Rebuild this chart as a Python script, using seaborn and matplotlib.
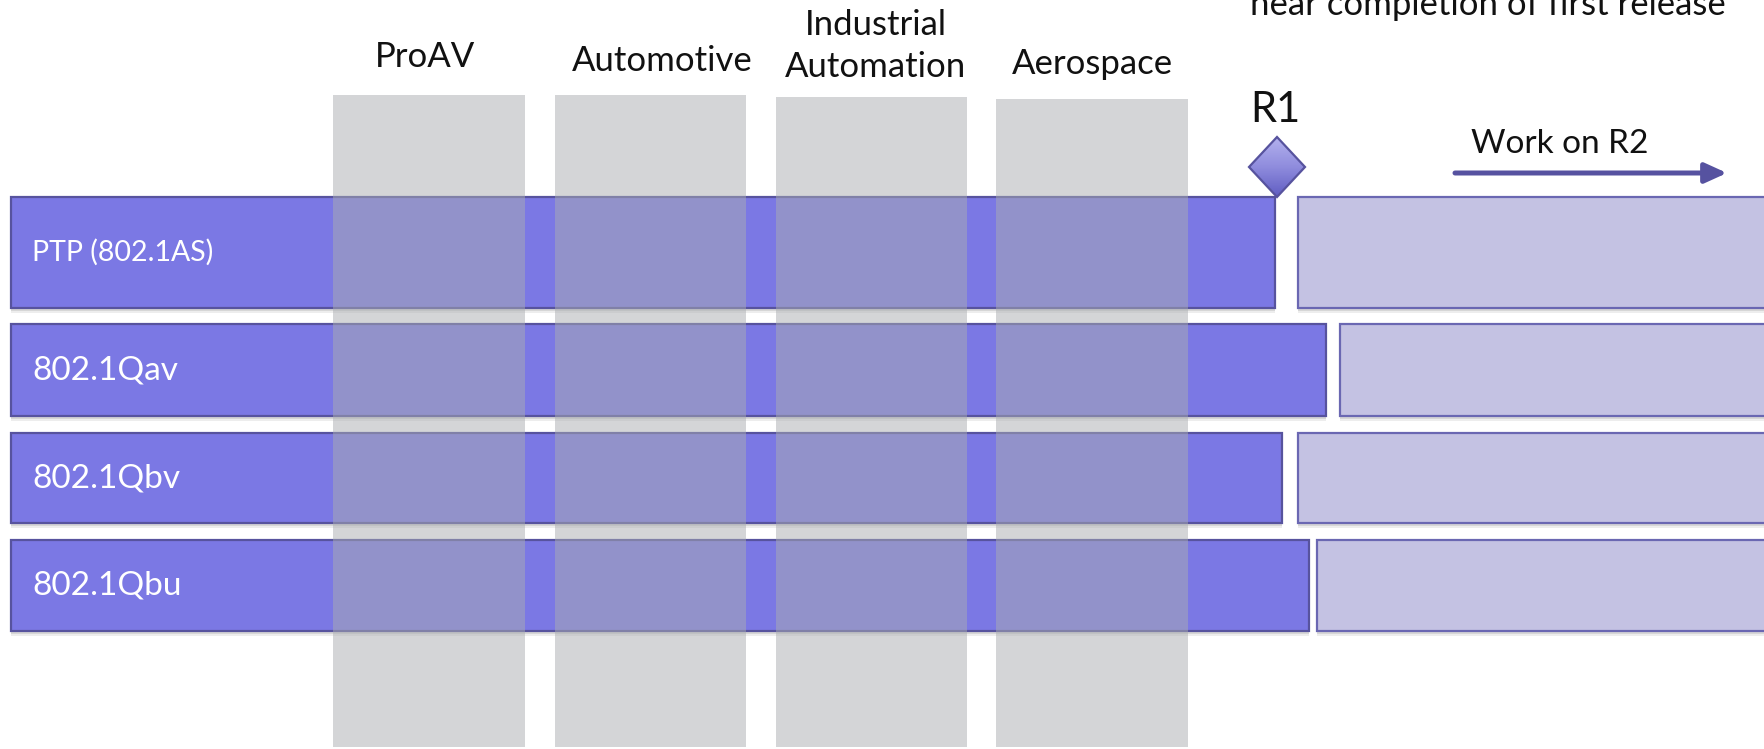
import numpy as np
import matplotlib
matplotlib.use("Agg")
import matplotlib.pyplot as plt
import seaborn as sns
from matplotlib.patches import Polygon
from matplotlib.colors import LinearSegmentedColormap

# ----------------------------------- Data ----------------------------------

standards = ["PTP (802.1AS)", "802.1Qav", "802.1Qbv", "802.1Qbu"]
label_size = [20.5, 24, 24, 24]
row_top = [197, 324, 433, 540]
row_bottom = [308, 416, 523, 631]
r1_start = [11, 11, 11, 11]
r1_end = [1275, 1326, 1282, 1309]
r2_start = [1298, 1340, 1298, 1317]
r2_end = [1780, 1780, 1780, 1780]

sectors = ["ProAV", "Automotive", "Industrial\nAutomation", "Aerospace"]
sector_left = [333, 555, 776, 996]
sector_right = [525, 746, 967, 1188]
sector_top = [95, 95, 97, 99]
sector_bottom = [747, 747, 747, 747]
sector_label_x = [425, 662, 876, 1092]
sector_label_y = [67, 71, 77, 74]

milestone = "R1"
milestone_x = 1277
milestone_y = 167

# ----------------------------------- Figure ----------------------------------

sns.set_theme(style="white")
plt.rcParams['font.family'] = ['Lato', 'DejaVu Sans']

fig = plt.figure(figsize=(17.65, 7.49), dpi=100)
ax = fig.add_axes([0, 0, 1, 1])

purple = "#7B78E4"
purple_edge = "#57539E"
light = "#C4C2E3"
light_edge = "#6A67B2"

row_top = np.array(row_top)
row_h = np.array(row_bottom) - row_top
r1_w = np.array(r1_end) - np.array(r1_start)
r2_w = np.array(r2_end) - np.array(r2_start)

# soft shadows under the bars
for k, a in [(5, 0.10), (3, 0.15)]:
    ax.barh(row_top + k, r1_w, height=row_h, left=r1_start, align="edge",
            color="#555555", alpha=a, linewidth=0, zorder=1)
    ax.barh(row_top + k, r2_w, height=row_h, left=r2_start, align="edge",
            color="#555555", alpha=a, linewidth=0, zorder=1)

# R1 work bars
ax.barh(row_top, r1_w, height=row_h, left=r1_start, align="edge",
        color=purple, edgecolor=purple_edge, linewidth=1.6, zorder=2)
# R2 work bars
ax.barh(row_top, r2_w, height=row_h, left=r2_start, align="edge",
        color=light, edgecolor=light_edge, linewidth=1.6, zorder=2)

for i, name in enumerate(standards):
    ax.text(r1_start[i] + 21, row_top[i] + row_h[i] / 2, name, color="white",
            fontsize=label_size[i], va="center", ha="left", zorder=3)

# market columns (translucent grey on top)
sec_w = np.array(sector_right) - np.array(sector_left)
sec_h = np.array(sector_bottom) - np.array(sector_top)
ax.bar(sector_left, sec_h, width=sec_w, bottom=sector_top, align="edge",
       color="#AAADB1", alpha=0.5, linewidth=0, zorder=4)

for i, name in enumerate(sectors):
    ax.text(sector_label_x[i], sector_label_y[i], name, fontsize=25,
            ha="center", va="baseline", color="#111111", linespacing=1.4)

# milestone diamond with gradient
dx, dy = 28, 30
diamond = Polygon([[milestone_x - dx, milestone_y], [milestone_x, milestone_y - dy],
                   [milestone_x + dx, milestone_y], [milestone_x, milestone_y + dy]],
                  closed=True, facecolor="none", edgecolor=purple_edge,
                  linewidth=1.6, zorder=6)
ax.add_patch(diamond)
cmap = LinearSegmentedColormap.from_list("dia", ["#B3B1EE", "#8F8CDD", "#605DC2"])
grad = np.linspace(0, 1, 100).reshape(-1, 1)
img = ax.imshow(grad, cmap=cmap, aspect="auto", zorder=5,
                extent=[milestone_x - dx, milestone_x + dx,
                        milestone_y + dy, milestone_y - dy])
img.set_clip_path(diamond)

ax.text(1275, 122, milestone, fontsize=30, ha="center", va="baseline", color="#111111")

ax.text(1560, 153, "Work on R2", fontsize=24, ha="center", va="baseline", color="#111111")
ax.annotate("", xy=(1727, 173), xytext=(1455, 173),
            arrowprops=dict(arrowstyle="-|>,head_length=1.1,head_width=0.5",
                            color="#5652A0", lw=3.6, shrinkA=0, shrinkB=0))

ax.text(1488, 15, "near completion of first release", fontsize=25,
        ha="center", va="baseline", color="#111111")

ax.set_xlim(0, 1765)
ax.set_ylim(749, 0)
ax.axis("off")

fig.savefig("out.png", dpi=100)
